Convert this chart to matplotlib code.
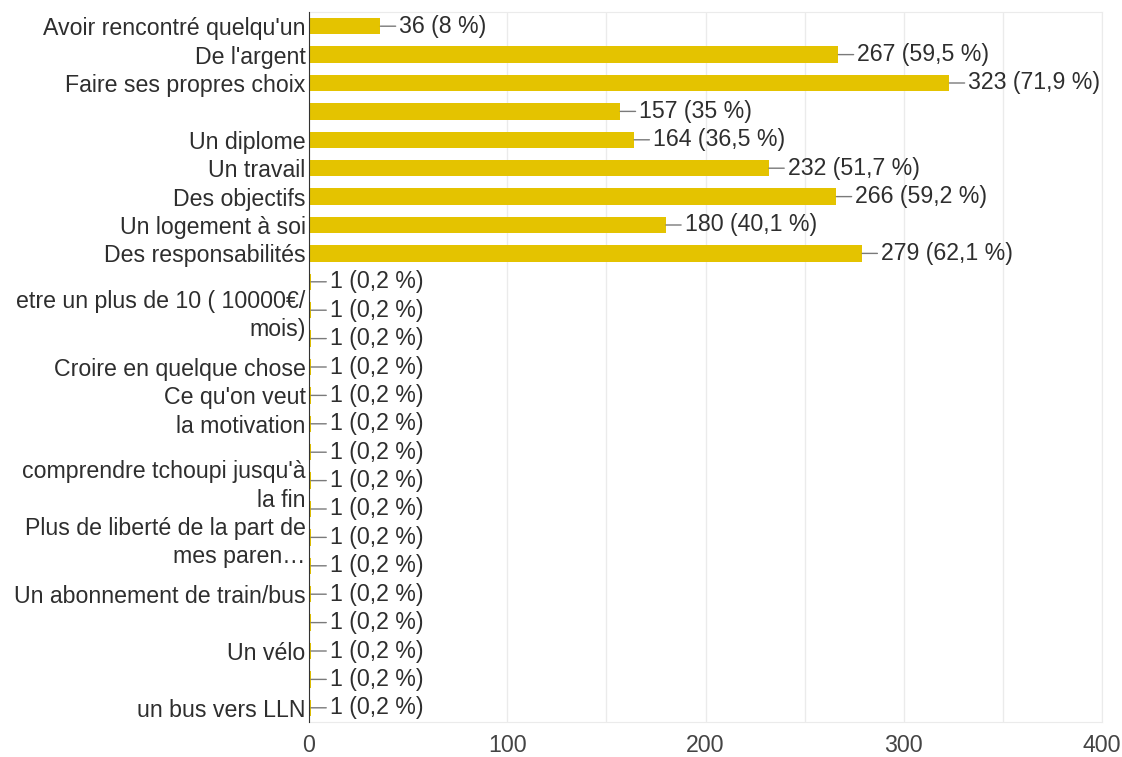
import matplotlib.pyplot as plt
from matplotlib.ticker import MultipleLocator, FixedLocator

plt.rcParams['font.family'] = ['Liberation Sans', 'DejaVu Sans']

# réponses (les lignes vides n'ont pas de libellé affiché)
labels = [
    "Avoir rencontré quelqu'un", "De l'argent", "Faire ses propres choix", "",
    "Un diplome", "Un travail", "Des objectifs", "Un logement à soi",
    "Des responsabilités", "", "etre un plus de 10 ( 10000€/\nmois)", "",
    "Croire en quelque chose", "Ce qu'on veut", "la motivation", "",
    "comprendre tchoupi jusqu'à\nla fin", "", "Plus de liberté de la part de\nmes paren…", "",
    "Un abonnement de train/bus", "", "Un vélo", "", "un bus vers LLN",
]
counts = [36, 267, 323, 157, 164, 232, 266, 180, 279] + [1] * 16
percents = ["8", "59,5", "71,9", "35", "36,5", "51,7", "59,2", "40,1", "62,1"] + ["0,2"] * 16

bar_color = '#e4c300'
fs = 16.7

fig = plt.figure(figsize=(11.22, 7.57), dpi=100)
ax = fig.add_axes([309 / 1122, 1 - 722 / 757, (1102 - 309) / 1122, (722 - 12) / 757])

y = list(range(len(labels)))
ax.barh(y, counts, height=0.58, color=bar_color, zorder=2)

# étiquettes de valeur avec petit trait
for yi, c, p in zip(y, counts, percents):
    ax.annotate(f"{c} ({p} %)", xy=(c, yi), xytext=(13.5, 0), textcoords='offset points',
                ha='left', va='center', fontsize=fs, color='#2e2e2e', zorder=4,
                arrowprops=dict(arrowstyle='-', color='#7a7a7a', lw=1, shrinkA=0.5, shrinkB=0))

ax.set_xlim(0, 400)
ax.set_ylim(len(labels) - 0.5, -0.5)
ax.set_yticks(y)
ax.set_yticklabels(labels)
for lbl in ax.get_yticklabels():
    lbl.set_linespacing(1.3)
ax.xaxis.set_major_locator(MultipleLocator(100))
ax.xaxis.set_minor_locator(FixedLocator([150, 250, 350]))
ax.grid(True, axis='x', which='both', color='#ebebeb', lw=1, zorder=0)

ax.tick_params(axis='y', length=0, pad=2.5, labelsize=fs, labelcolor='#2e2e2e')
ax.tick_params(axis='x', which='both', length=0, pad=9, labelsize=fs, labelcolor='#444444')

for s in ['top', 'bottom', 'right']:
    ax.spines[s].set_color('#ebebeb')
ax.spines['left'].set_color('#333333')
ax.spines['left'].set_zorder(5)

fig.savefig('out.png', dpi=100)
